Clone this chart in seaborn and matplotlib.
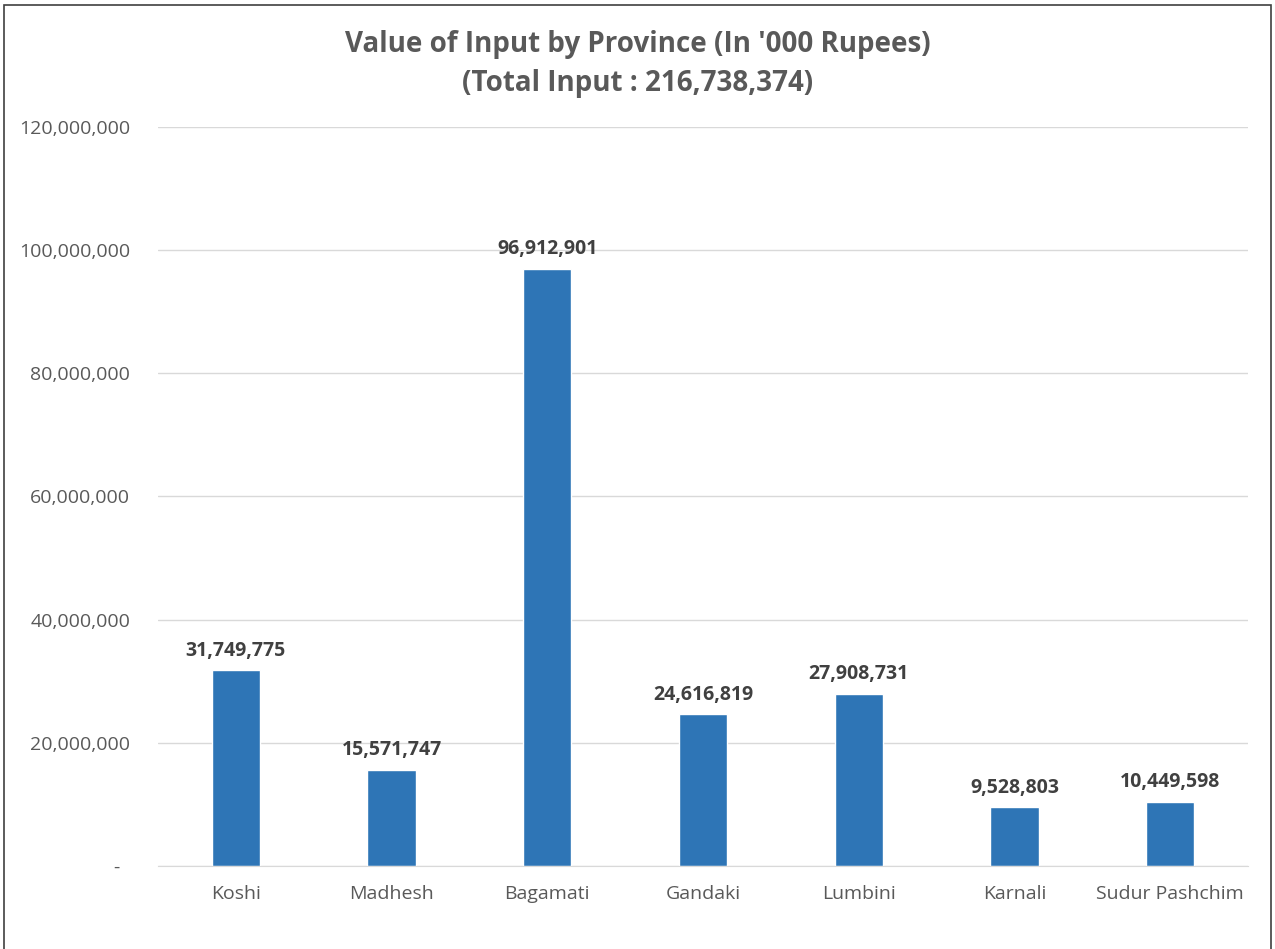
import matplotlib
matplotlib.use('Agg')
import matplotlib.pyplot as plt
import matplotlib.ticker as mticker
from matplotlib.patches import Rectangle
import seaborn as sns
import pandas as pd

provinces = ['Koshi', 'Madhesh', 'Bagamati', 'Gandaki', 'Lumbini', 'Karnali', 'Sudur Pashchim']
values = [31749775, 15571747, 96912901, 24616819, 27908731, 9528803, 10449598]
total = 216738374

df = pd.DataFrame({'province': provinces, 'value': values})

sns.set_style('white')
plt.rcParams['font.family'] = ['Open Sans', 'DejaVu Sans']

fig = plt.figure(figsize=(12.75, 9.49), dpi=100)
ax = fig.add_axes([0.1239, 0.0875, 0.8549, 0.7787])

sns.barplot(data=df, x='province', y='value', color='#2e75b6', width=0.31,
            saturation=1, ax=ax)

ax.set_ylim(0, 120000000)
ax.set_yticks(range(0, 120000001, 20000000))
ax.yaxis.set_major_formatter(mticker.FuncFormatter(
    lambda v, p: '-  ' if v == 0 else f'{int(v):,}'))
ax.grid(axis='y', color='#d9d9d9', linewidth=1)
ax.set_axisbelow(True)
for s in ['top', 'right', 'left']:
    ax.spines[s].set_visible(False)
ax.spines['bottom'].set_color('#d9d9d9')
ax.tick_params(axis='both', length=0, labelsize=14, labelcolor='#595959')
ax.tick_params(axis='y', pad=20)
ax.tick_params(axis='x', pad=14)
ax.set_xlabel('')
ax.set_ylabel('')

for c in ax.containers:
    ax.bar_label(c, labels=[f'{v:,}' for v in values], padding=7,
                 fontsize=14, fontweight='bold', color='#404040')

fig.text(0.5, 0.933, "Value of Input by Province (In '000 Rupees)\n(Total Input : " + f'{total:,}' + ')',
         ha='center', va='center', fontsize=20, fontweight='bold', color='#595959',
         linespacing=1.45)

# chart frame (bottom edge falls outside the image like in the original)
fig.patches.append(Rectangle((0.003, -0.01), 0.994, 1.005, transform=fig.transFigure,
                             fill=False, edgecolor='#404040', linewidth=1.2))

fig.savefig('out.png', dpi=100)
